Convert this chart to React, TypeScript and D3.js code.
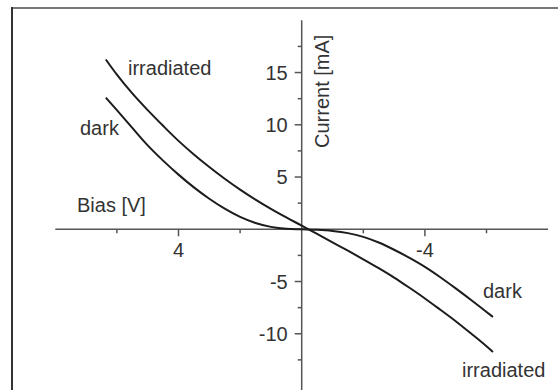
import React from "react";
import * as d3 from "d3";

const W = 558;
const H = 390;

// Bias [V] vs Current [mA]
const irradiatedV = [6.36, 6.0, 5.5, 5.0, 4.5, 4.0, 3.5, 3.0, 2.5, 2.0, 1.5, 1.0, 0.5, 0, -0.5, -1.0, -1.5, -2.0, -2.5, -3.0, -3.5, -4.0, -4.5, -5.0, -5.5, -6.0, -6.21];
const irradiatedI = [16.25, 14.8, 13.0, 11.4, 9.9, 8.46, 7.16, 5.96, 4.84, 3.8, 2.84, 1.95, 1.13, 0.35, -0.45, -1.25, -2.05, -2.87, -3.72, -4.62, -5.6, -6.62, -7.7, -8.8, -9.98, -11.2, -11.75];

const darkV = [6.36, 6.0, 5.5, 5.0, 4.5, 4.0, 3.5, 3.0, 2.5, 2.0, 1.5, 1.0, 0.5, 0, -0.5, -1.0, -1.5, -2.0, -2.5, -3.0, -3.5, -4.0, -4.5, -5.0, -5.5, -6.0, -6.21];
const darkI = [12.6, 11.4, 9.7, 8.03, 6.57, 5.23, 4.01, 2.92, 1.97, 1.18, 0.6, 0.23, 0.05, 0.0, -0.05, -0.16, -0.37, -0.73, -1.27, -1.96, -2.74, -3.6, -4.59, -5.66, -6.77, -7.91, -8.39];

const xMajorTicks = [4, -4];
const xMinorTicks = [6, 2, -2, -6];
const yMajorTicks = [15, 10, 5, -5, -10];
const yMinorTicks = [17.5, 12.5, 7.5, 2.5, -2.5, -7.5, -12.5];

const FONT = "'Liberation Sans', Arial, Helvetica, sans-serif";
const TEXT = "#333";
const AXIS = "#555";
const CURVE = "#1c1c1c";

export default function App() {
  const x = d3.scaleLinear().domain([8, -8]).range([55.3, 548.1]);
  const y = d3.scaleLinear().domain([-15, 20]).range([386, 20.3]);

  const line = d3
    .line<[number, number]>()
    .x((d) => x(d[0]))
    .y((d) => y(d[1]))
    .curve(d3.curveMonotoneX);

  const irr: [number, number][] = irradiatedV.map((v, i) => [v, irradiatedI[i]]);
  const dk: [number, number][] = darkV.map((v, i) => [v, darkI[i]]);

  const x0 = x(0);
  const y0 = y(0);

  return (
    <div style={{ position: "fixed", left: 0, top: 0, width: W, height: H }}>
      <svg width={W} height={H} style={{ display: "block", background: "#fff" }}>
        {/* frame */}
        <line x1={12} y1={8} x2={W} y2={8} stroke="#777" strokeWidth={2} />
        <line x1={12} y1={7} x2={12} y2={H} stroke="#333" strokeWidth={2} />

        {/* x axis */}
        <line x1={x(8)} y1={y0} x2={x(-8)} y2={y0} stroke={AXIS} strokeWidth={1.5} />
        {xMajorTicks.map((t) => (
          <g key={"xM" + t}>
            <line x1={x(t)} x2={x(t)} y1={y0} y2={y0 + 7} stroke={AXIS} strokeWidth={1.5} />
            <text x={x(t)} y={y0 + 28} textAnchor="middle" fontFamily={FONT} fontSize={20} fill={TEXT}>
              {String(t)}
            </text>
          </g>
        ))}
        {xMinorTicks.map((t) => (
          <line key={"xm" + t} x1={x(t)} x2={x(t)} y1={y0} y2={y0 + 4} stroke={AXIS} strokeWidth={1.5} />
        ))}

        {/* y axis */}
        <line x1={x0} y1={y(20)} x2={x0} y2={H} stroke={AXIS} strokeWidth={1.5} />
        {yMajorTicks.map((t) => (
          <g key={"yM" + t}>
            <line x1={x0 - 7} x2={x0} y1={y(t)} y2={y(t)} stroke={AXIS} strokeWidth={1.5} />
            <text x={x0 - 14} y={y(t)} dy="0.35em" textAnchor="end" fontFamily={FONT} fontSize={20} fill={TEXT}>
              {String(t)}
            </text>
          </g>
        ))}
        {yMinorTicks.map((t) => (
          <line key={"ym" + t} x1={x0 - 4} x2={x0} y1={y(t)} y2={y(t)} stroke={AXIS} strokeWidth={1.5} />
        ))}

        {/* curves */}
        <path d={line(irr) || ""} fill="none" stroke={CURVE} strokeWidth={2} />
        <path d={line(dk) || ""} fill="none" stroke={CURVE} strokeWidth={2} />

        {/* labels */}
        <text x={128} y={75} fontFamily={FONT} fontSize={20} fill={TEXT}>irradiated</text>
        <text x={80} y={135} fontFamily={FONT} fontSize={20} fill={TEXT}>dark</text>
        <text x={77} y={212} fontFamily={FONT} fontSize={20} fill={TEXT}>Bias [V]</text>
        <text x={483} y={298} fontFamily={FONT} fontSize={20} fill={TEXT}>dark</text>
        <text x={462} y={377} fontFamily={FONT} fontSize={20} fill={TEXT}>irradiated</text>
        <text
          transform={`translate(${329},${148}) rotate(-90)`}
          fontFamily={FONT}
          fontSize={20}
          fill={TEXT}
        >
          Current [mA]
        </text>
      </svg>
    </div>
  );
}
